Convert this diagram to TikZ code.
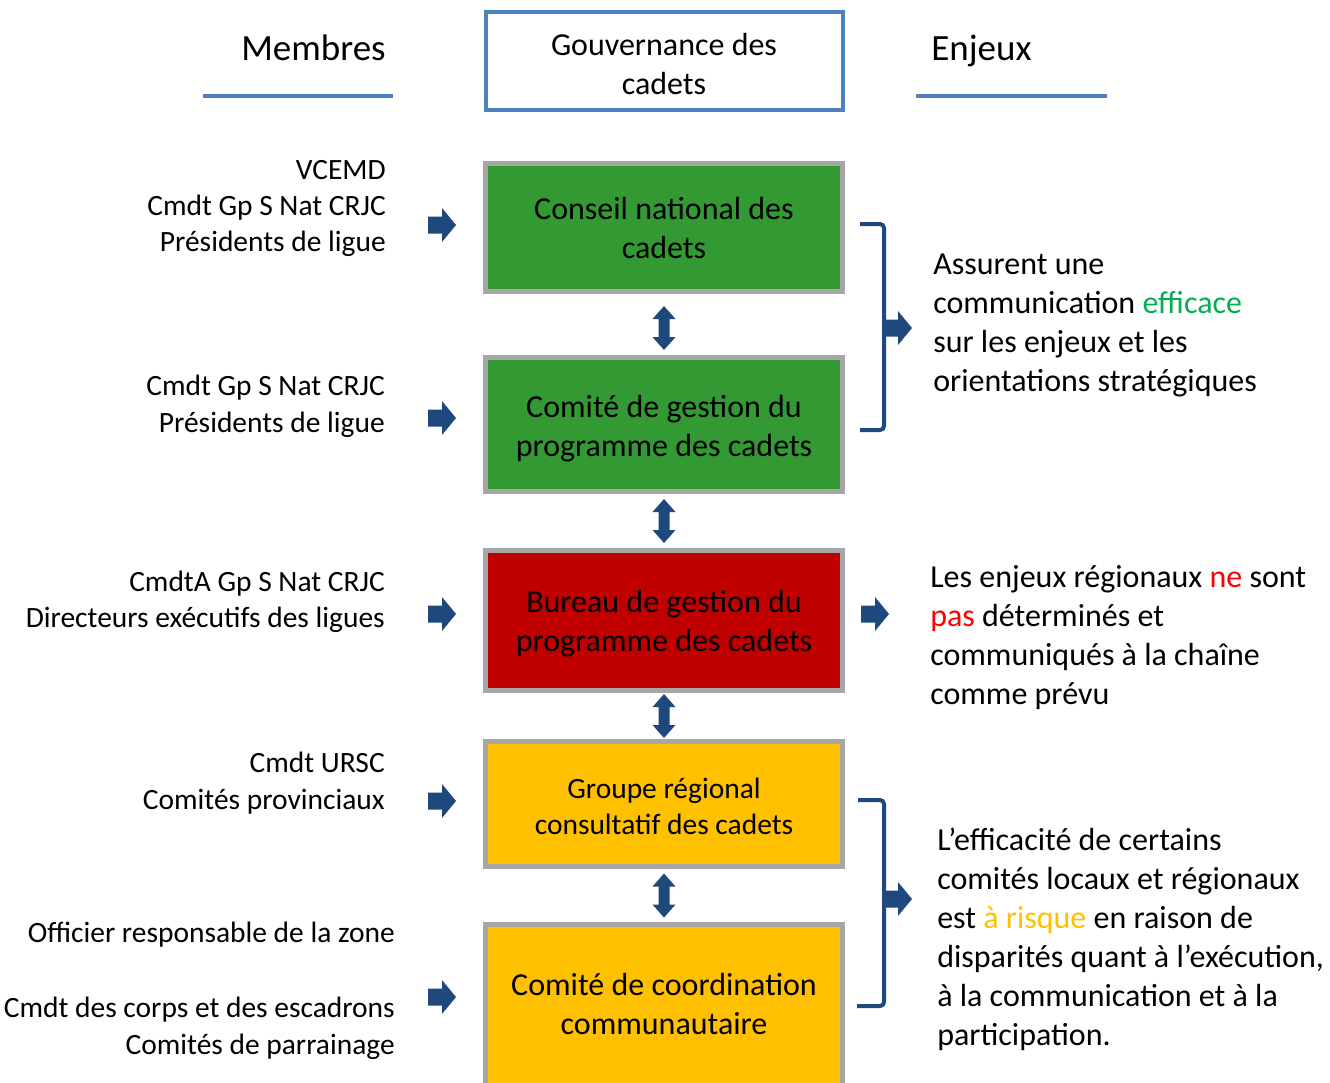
\documentclass[tikz,border=0pt]{standalone}
\usepackage{fontspec}
\setmainfont{Carlito}
\usetikzlibrary{calc}
\definecolor{hdrblue}{RGB}{79,129,189}
\definecolor{arrblue}{RGB}{31,73,125}
\definecolor{boxgray}{RGB}{166,166,166}
\definecolor{gfill}{RGB}{51,153,51}
\definecolor{rfill}{RGB}{192,0,0}
\definecolor{yfill}{RGB}{255,192,0}
\definecolor{effgreen}{RGB}{0,176,80}
\definecolor{redtxt}{RGB}{255,0,0}
\newcommand\bigtxt{\fontsize{24}{29.25}\selectfont}
\newcommand\smalltxt{\fontsize{22.1}{27}\selectfont}
\newcommand\headtxt{\fontsize{27.75}{33}\selectfont}
\tikzset{
  box/.style={draw=boxgray, line width=3.75pt, minimum width=267.75pt, inner sep=0pt},
  boxtext/.style={inner sep=0pt, align=center, font=\bigtxt},
  lefttxt/.style={anchor=base east, inner sep=0pt, font=\smalltxt},
  righttxt/.style={anchor=base west, inner sep=0pt, font=\bigtxt},
  bracket/.style={draw=arrblue, line width=3pt, rounded corners=3pt},
  rarrow/.pic={\fill[arrblue] (-14,-8.5) -- (0,-8.5) -- (0,-17) -- (14,0) -- (0,17) -- (0,8.5) -- (-14,8.5) -- cycle;},
  udarrow/.pic={\fill[arrblue] (0,-22) -- (11.5,-9) -- (5.5,-9) -- (5.5,9) -- (11.5,9) -- (0,22) -- (-11.5,9) -- (-5.5,9) -- (-5.5,-9) -- (-11.5,-9) -- cycle;}
}
\begin{document}
\begin{tikzpicture}[x=0.75pt,y=-0.75pt]
\clip (0,0) rectangle (1330,1082);
\fill[white] (0,0) rectangle (1330,1082);

% headers
\node[anchor=base, inner sep=0pt, font=\headtxt] (membres) at (313.5,60) {Membres};
\node[anchor=base, inner sep=0pt, font=\headtxt] (enjeux) at (981.5,60) {Enjeux};
\draw[hdrblue, line width=3pt] (203,96) -- (393,96);
\draw[hdrblue, line width=3pt] (916,96) -- (1107,96);
\node[draw=hdrblue, line width=3pt, minimum width=267.75pt, minimum height=73.5pt, inner sep=0pt] (gov) at (664,61) {};
\node[boxtext] (govt) at (664,64) {Gouvernance des\\cadets};

% boxes
\node[box, fill=gfill, minimum height=96pt] (b1) at (664,227.5) {};
\node[boxtext] (b1t) at (664,228.5) {Conseil national des\\cadets};
\node[box, fill=gfill, minimum height=100.5pt] (b2) at (664,424.5) {};
\node[boxtext] (b2t) at (664,429) {Comité de gestion du\\programme des cadets};
\node[box, fill=rfill, minimum height=105pt] (b3) at (664,620.5) {};
\node[boxtext] (b3t) at (664,623.5) {Bureau de gestion du\\programme des cadets};
\node[box, fill=yfill, minimum height=93.75pt] (b4) at (664,804) {};
\node[boxtext, font=\smalltxt] (b4t) at (664,806) {Groupe régional\\consultatif des cadets};
\node[box, fill=yfill, minimum height=131.6pt] (b5) at (664,1012.25) {};
\node[boxtext] (b5t) at (664,1003.5) {Comité de coordination\\communautaire};

% vertical double arrows
\pic at ($(b1.south)!0.5!(b2.north)+(0,3.5)$) {udarrow};
\pic at ($(b2.south)!0.5!(b3.north)$) {udarrow};
\pic at ($(b3.south)!0.5!(b4.north)$) {udarrow};
\pic at ($(b4.south)!0.5!(b5.north)$) {udarrow};

% left arrows
\pic at (442,225) {rarrow};
\pic at (442,418) {rarrow};
\pic at (442,614) {rarrow};
\pic at (442,801) {rarrow};
\pic at (442,997) {rarrow};
% right arrow of box 3
\pic at (875,614) {rarrow};

% brackets
\draw[bracket] (860,224) -- (884,224) -- (884,430) -- (860,430);
\pic at (898,328) {rarrow};
\draw[bracket] (858,800) -- (884,800) -- (884,1006) -- (857,1006);
\pic at (898,899) {rarrow};

% left texts
\foreach \t [count=\i] in {VCEMD, Cmdt Gp S Nat CRJC, Présidents de ligue}
  \node[lefttxt] (ma-\i) at (386,{179+36*(\i-1)}) {\t};
\foreach \t [count=\i] in {Cmdt Gp S Nat CRJC, Présidents de ligue}
  \node[lefttxt] (mb-\i) at (385,{395+37*(\i-1)}) {\t};
\foreach \t [count=\i] in {CmdtA Gp S Nat CRJC, Directeurs exécutifs des ligues}
  \node[lefttxt] (mc-\i) at (385,{591+36*(\i-1)}) {\t};
\foreach \t [count=\i] in {Cmdt URSC, Comités provinciaux}
  \node[lefttxt] (md-\i) at (385,{772+37*(\i-1)}) {\t};
\node[lefttxt] (me-0) at (395,942) {Officier responsable de la zone};
\foreach \t [count=\i] in {Cmdt des corps et des escadrons, Comités de parrainage}
  \node[lefttxt] (me-\i) at (395,{1017+37*(\i-1)}) {\t};

% right texts
\foreach \t [count=\i] in {Assurent une, {communication \textcolor{effgreen}{efficace}}, sur les enjeux et les, orientations stratégiques}
  \node[righttxt] (ea-\i) at (933,{274+39*(\i-1)}) {\t};
\foreach \t [count=\i] in {{Les enjeux régionaux \textcolor{redtxt}{ne} sont}, {\textcolor{redtxt}{pas} déterminés et}, communiqués à la chaîne, comme prévu}
  \node[righttxt] (eb-\i) at (930,{587+39*(\i-1)}) {\t};
\foreach \t [count=\i] in {L’efficacité de certains, comités locaux et régionaux, {est \textcolor{yfill}{à risque} en raison de}, {disparités quant à l’exécution,}, à la communication et à la, participation.}
  \node[righttxt] (ec-\i) at (937,{850+39*(\i-1)}) {\t};
\end{tikzpicture}
\end{document}
